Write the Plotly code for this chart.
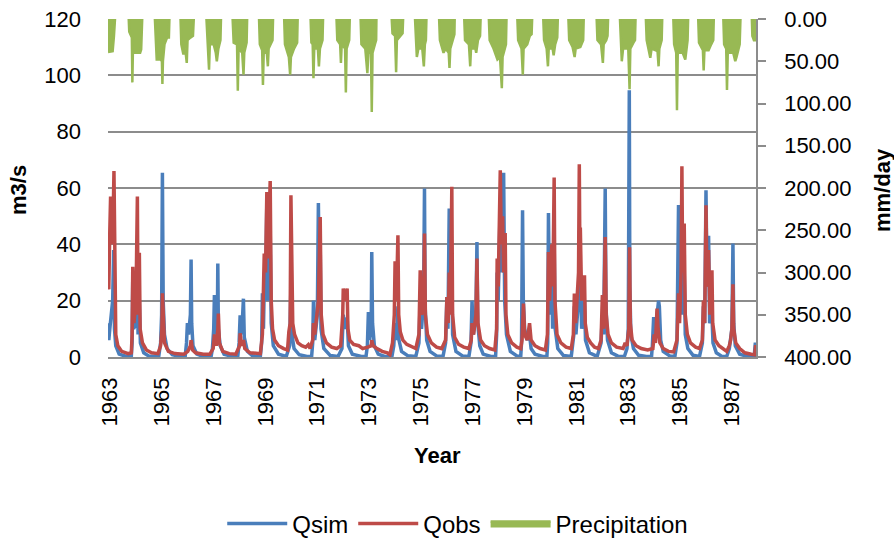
import plotly.graph_objects as go

# ---- Data (decimal year, value) ----
qsim_pts = [
    (1962.92,12),(1962.95,6),(1962.99,10),(1963.02,13),(1963.1,20),(1963.14,38),(1963.17,10),(1963.22,4),(1963.35,1),(1963.6,0.3),
    (1963.82,0.3),(1963.85,5),(1963.876,28.6),(1963.91,10),(1964.0,12),(1964.05,30),(1964.08,8),(1964.13,20),(1964.17,5),(1964.3,1.5),(1964.5,0.3),
    (1964.88,0.3),(1964.95,5),(1964.99,15),(1965.02,65.4),(1965.05,20),(1965.1,8),(1965.2,3),(1965.4,0.8),(1965.7,0.2),
    (1965.9,0.3),(1965.95,5),(1965.985,12),(1966.03,8),(1966.1,15),(1966.127,34.6),(1966.15,12),(1966.2,4),(1966.35,1),(1966.6,0.2),
    (1966.9,0.2),(1966.95,3),(1967.0,10),(1967.027,22),(1967.08,8),(1967.14,12),(1967.158,33.2),(1967.18,10),(1967.25,4),(1967.4,1),(1967.7,0.2),
    (1967.93,0.3),(1967.98,5),(1968.02,14.8),(1968.08,8),(1968.147,20.7),(1968.18,7),(1968.3,2),(1968.5,0.4),(1968.8,0.2),
    (1968.85,5),(1968.88,22.6),(1968.92,10),(1968.96,30),(1969.0,20),(1969.05,55),(1969.1,20),(1969.18,45),(1969.22,12),(1969.3,4),(1969.5,1),(1969.8,0.2),
    (1969.93,4),(1969.98,25),(1970.02,8),(1970.1,3),(1970.3,0.8),(1970.6,0.2),
    (1970.78,0.3),(1970.82,5),(1970.85,20),(1970.9,6),(1971.0,15),(1971.04,54.7),(1971.08,20),(1971.11,40),(1971.14,10),(1971.25,3),(1971.5,0.5),(1971.8,0.2),
    (1971.95,3),(1972.0,15),(1972.05,10),(1972.15,14),(1972.2,4),(1972.35,1),(1972.7,0.2),
    (1972.88,0.3),(1972.93,4),(1972.97,16),(1973.02,6),(1973.08,12),(1973.10,37.3),(1973.13,12),(1973.2,4),(1973.35,1),(1973.6,0.2),
    (1973.88,0.3),(1973.95,4),(1974.0,12),(1974.05,6),(1974.11,18),(1974.15,6),(1974.25,2),(1974.5,0.4),(1974.8,0.2),
    (1974.92,5),(1974.97,20),(1975.02,10),(1975.1,20),(1975.135,59.8),(1975.16,18),(1975.22,6),(1975.35,2),(1975.6,0.4),(1975.85,0.2),
    (1975.95,5),(1976.0,21.3),(1976.04,10),(1976.09,52.7),(1976.12,20),(1976.19,30),(1976.22,8),(1976.35,2),(1976.6,0.4),(1976.85,0.2),
    (1976.93,5),(1976.97,20),(1977.02,8),(1977.12,15),(1977.16,40.8),(1977.19,12),(1977.27,4),(1977.4,1),(1977.7,0.2),
    (1977.88,0.3),(1977.92,8),(1977.94,30),(1977.98,20),(1978.06,55),(1978.1,30),(1978.19,65.4),(1978.23,20),(1978.3,8),(1978.45,2),(1978.7,0.4),(1978.85,0.2),
    (1978.88,5),(1978.92,52.1),(1978.95,20),(1979.0,10),(1979.1,6),(1979.19,8),(1979.25,3),(1979.4,1),(1979.7,0.2),
    (1979.86,0.3),(1979.89,5),(1979.92,51.1),(1979.96,15),(1980.05,30),(1980.08,10),(1980.14,40),(1980.18,10),(1980.28,3),(1980.5,0.5),(1980.8,0.2),
    (1980.9,8),(1980.92,18),(1980.98,8),(1981.08,20),(1981.11,45),(1981.15,30),(1981.2,10),(1981.31,20),(1981.35,6),(1981.5,1.5),(1981.8,0.2),
    (1981.95,5),(1982.0,15),(1982.05,8),(1982.11,59.8),(1982.14,18),(1982.2,6),(1982.35,1.5),(1982.6,0.3),(1982.85,0.2),
    (1982.95,3),(1983.0,10),(1983.04,94.7),(1983.06,25),(1983.1,8),(1983.2,3),(1983.4,0.6),(1983.7,0.2),
    (1983.9,0.3),(1983.93,4),(1983.98,14.2),(1984.03,8),(1984.12,15),(1984.17,20),(1984.2,18),(1984.25,6),(1984.35,2),(1984.6,0.4),(1984.8,0.2),
    (1984.88,5),(1984.94,54),(1984.97,20),(1985.04,25),(1985.07,45),(1985.1,15),(1985.16,30),(1985.2,8),(1985.3,3),(1985.5,0.6),(1985.75,0.2),
    (1985.86,5),(1985.9,18),(1985.95,12),(1986.0,59.2),(1986.04,25),(1986.1,43),(1986.14,12),(1986.23,15),(1986.27,5),(1986.4,1.5),(1986.6,0.3),(1986.8,0.2),
    (1986.9,3),(1986.93,6),(1987.0,10),(1987.04,40.3),(1987.07,12),(1987.13,4),(1987.3,1),(1987.6,0.2),(1987.86,0.2),(1987.9,4.5),(1987.93,4.5),
]

qobs_pts = [
    (1962.92,32),(1962.95,24),(1962.99,45),(1963.02,57),(1963.06,40),(1963.12,50),(1963.15,66),(1963.18,20),(1963.22,8),(1963.3,4),(1963.45,2),(1963.7,1.2),
    (1963.82,1.5),(1963.85,8),(1963.876,32),(1963.92,12),(1964.0,20),(1964.054,57),(1964.08,15),(1964.13,37),(1964.16,10),(1964.25,5),(1964.4,2.5),(1964.6,1.5),(1964.85,1.2),
    (1964.95,4),(1965.0,10),(1965.02,22.6),(1965.05,12),(1965.1,5),(1965.25,2),(1965.5,1.2),(1965.85,1.0),
    (1966.0,2),(1966.1,4),(1966.127,6),(1966.18,2.5),(1966.3,1.5),(1966.6,1.0),(1966.85,1.0),
    (1966.98,3),(1967.03,8),(1967.1,4),(1967.16,10),(1967.18,15.4),(1967.22,5),(1967.35,2),(1967.6,1.2),(1967.85,1.0),
    (1968.0,4),(1968.02,8.4),(1968.08,4),(1968.15,6),(1968.2,3),(1968.4,1.5),(1968.8,1.2),
    (1968.88,8),(1968.95,36.7),(1969.0,30),(1969.05,58.6),(1969.1,35),(1969.18,62.5),(1969.22,20),(1969.27,10),(1969.35,6),(1969.5,4),(1969.7,3),(1969.85,2.5),
    (1969.9,9),(1969.95,12),(1969.98,57.4),(1970.01,20),(1970.05,12),(1970.12,8),(1970.25,5),(1970.4,4),(1970.55,3.5),(1970.65,4.4),(1970.72,3),
    (1970.82,6),(1970.85,12),(1970.9,8),(1971.04,20),(1971.11,49.7),(1971.15,15),(1971.22,8),(1971.35,5),(1971.55,3.5),(1971.75,3),
    (1971.9,4),(1971.98,15),(1972.0,24.3),(1972.08,20),(1972.15,24.3),(1972.18,10),(1972.25,6),(1972.4,4.5),(1972.6,4),(1972.75,3),
    (1972.95,3.5),(1973.08,4),(1973.10,6),(1973.15,4),(1973.3,3),(1973.5,2),(1973.7,1.5),(1973.8,0.8),
    (1973.9,5),(1973.97,15),(1974.0,34),(1974.05,20),(1974.11,43.2),(1974.14,15),(1974.2,9),(1974.3,6),(1974.45,4.5),(1974.65,3.5),(1974.8,3),
    (1974.92,8),(1974.97,30.8),(1975.02,15),(1975.1,18),(1975.135,43.8),(1975.17,15),(1975.25,8),(1975.4,5),(1975.6,3.5),(1975.8,3),
    (1975.95,6),(1976.0,21.3),(1976.05,12),(1976.09,30),(1976.13,15),(1976.19,60.4),(1976.22,15),(1976.3,7),(1976.45,4.5),(1976.65,3.5),(1976.85,3),
    (1976.94,6),(1976.97,12),(1977.03,8),(1977.12,15),(1977.16,35),(1977.2,12),(1977.3,6),(1977.45,4),(1977.65,3),(1977.85,2.5),
    (1977.92,10),(1977.94,35),(1977.98,25),(1978.06,66.3),(1978.1,40),(1978.15,50),(1978.19,30),(1978.25,44),(1978.28,15),(1978.35,8),(1978.5,5),(1978.7,3.5),(1978.85,3),
    (1978.9,6),(1978.955,19),(1979.0,8),(1979.1,6),(1979.19,12),(1979.25,6),(1979.4,4),(1979.6,3),(1979.8,2.5),
    (1979.88,8),(1979.92,37.3),(1979.96,20),(1980.05,40),(1980.09,25),(1980.14,63.7),(1980.17,20),(1980.25,8),(1980.4,5),(1980.6,3.5),(1980.8,3),
    (1980.88,8),(1980.92,22.5),(1980.97,12),(1981.08,30),(1981.11,68.4),(1981.13,40),(1981.15,46),(1981.2,20),(1981.31,29),(1981.34,12),(1981.42,7),(1981.55,5),(1981.7,3.5),(1981.85,3),
    (1981.95,6),(1982.0,22),(1982.05,10),(1982.11,42.6),(1982.15,15),(1982.22,8),(1982.35,5),(1982.55,3.5),(1982.8,3),
    (1982.88,5),(1982.95,4),(1983.02,10),(1983.05,39),(1983.08,12),(1983.15,6),(1983.3,4),(1983.5,3),(1983.75,2.5),
    (1983.95,3),(1984.0,8),(1984.05,5),(1984.11,17.2),(1984.15,10),(1984.22,5),(1984.35,3),(1984.55,2),(1984.75,1.8),
    (1984.88,6),(1984.94,22.6),(1984.98,12),(1985.04,30),(1985.07,67.7),(1985.1,30),(1985.16,47.4),(1985.2,15),(1985.28,8),(1985.4,5),(1985.6,3.5),(1985.75,3),
    (1985.86,6),(1985.9,20),(1985.95,12),(1986.0,53.9),(1986.04,25),(1986.1,38),(1986.15,15),(1986.23,30.8),(1986.26,12),(1986.35,6),(1986.5,4),(1986.65,3),(1986.8,2),
    (1986.9,4),(1986.95,6),(1987.0,10),(1987.04,25.8),(1987.07,10),(1987.15,5),(1987.3,3),(1987.5,1.5),(1987.75,1),(1987.88,0.8),(1987.91,3.6),(1987.93,3.6),
]

# precipitation (mm/day), one list of points per rainy season
precip_seasons = [
    [(1962.92,39),(1963.10,38),(1963.15,20),(1963.19,0)],
    [(1963.72,0),(1963.74,15),(1963.84,22),(1963.86,75),(1963.88,40),(1964.1,40),(1964.16,40),(1964.2,36),(1964.24,0)],
    [(1964.73,0),(1964.76,30),(1964.8,48),(1964.95,48),(1965.0,50),(1965.02,77),(1965.04,50),(1965.1,30),(1965.2,22),(1965.27,22),(1965.29,0)],
    [(1965.72,0),(1965.75,30),(1965.83,42),(1965.9,35),(1965.96,52),(1965.99,25),(1966.1,22),(1966.2,20),(1966.23,0)],
    [(1966.72,0),(1966.76,25),(1966.82,60),(1966.85,30),(1967.0,30),(1967.08,40),(1967.12,50),(1967.18,35),(1967.26,25),(1967.28,0)],
    [(1967.73,0),(1967.77,28),(1967.9,30),(1967.93,85),(1967.96,35),(1968.1,40),(1968.15,66),(1968.18,40),(1968.27,28),(1968.29,0)],
    [(1968.75,0),(1968.78,30),(1968.87,37),(1968.90,78),(1968.93,40),(1969.05,40),(1969.09,56),(1969.12,35),(1969.27,25),(1969.29,0)],
    [(1969.72,0),(1969.75,30),(1969.9,45),(1969.95,66),(1969.98,45),(1970.1,35),(1970.22,28),(1970.24,0)],
    [(1970.74,0),(1970.77,28),(1970.82,30),(1970.85,70),(1970.88,35),(1971.02,35),(1971.06,56),(1971.1,35),(1971.2,25),(1971.22,0)],
    [(1971.74,0),(1971.77,25),(1971.88,30),(1971.91,52),(1971.94,30),(1972.07,35),(1972.10,87),(1972.13,35),(1972.23,25),(1972.25,0)],
    [(1972.67,0),(1972.7,30),(1972.85,35),(1972.93,64),(1972.97,40),(1973.07,40),(1973.10,110),(1973.13,40),(1973.22,30),(1973.27,25),(1973.28,0)],
    [(1973.87,0),(1973.9,17),(1974.0,20),(1974.04,63),(1974.07,25),(1974.2,20),(1974.29,17),(1974.31,0)],
    [(1974.77,0),(1974.8,30),(1974.84,45),(1974.9,35),(1975.05,35),(1975.11,56),(1975.15,30),(1975.19,25),(1975.21,0)],
    [(1975.70,0),(1975.73,25),(1975.87,40),(1975.95,35),(1976.07,40),(1976.10,58),(1976.13,35),(1976.25,22),(1976.29,18),(1976.30,0)],
    [(1976.67,0),(1976.7,25),(1976.85,30),(1976.90,56),(1976.93,35),(1977.1,35),(1977.13,40),(1977.2,25),(1977.28,20),(1977.30,0)],
    [(1977.62,0),(1977.65,25),(1977.8,35),(1977.95,48),(1978.05,45),(1978.12,82),(1978.15,45),(1978.22,35),(1978.28,30),(1978.30,0)],
    [(1978.72,0),(1978.75,25),(1978.88,35),(1978.93,66),(1978.96,35),(1979.1,30),(1979.2,20),(1979.27,18),(1979.29,0)],
    [(1979.72,0),(1979.75,25),(1979.85,35),(1979.90,56),(1979.93,35),(1980.08,35),(1980.12,43),(1980.18,30),(1980.26,22),(1980.28,0)],
    [(1980.69,0),(1980.72,25),(1980.85,33),(1980.93,45),(1980.97,35),(1981.15,33),(1981.26,25),(1981.28,0)],
    [(1981.78,0),(1981.81,25),(1981.95,30),(1982.02,52),(1982.05,30),(1982.15,25),(1982.20,20),(1982.22,0)],
    [(1982.68,0),(1982.71,35),(1982.75,50),(1982.8,35),(1983.0,35),(1983.05,83),(1983.08,35),(1983.2,28),(1983.26,25),(1983.28,0)],
    [(1983.68,0),(1983.71,25),(1983.85,46),(1983.9,35),(1984.13,38),(1984.17,56),(1984.2,35),(1984.29,25),(1984.31,0)],
    [(1984.74,0),(1984.77,30),(1984.85,40),(1984.88,108),(1984.91,40),(1985.1,40),(1985.2,48),(1985.25,35),(1985.29,25),(1985.31,0)],
    [(1985.70,0),(1985.73,28),(1985.88,37),(1985.91,61),(1985.94,37),(1986.1,37),(1986.2,30),(1986.28,25),(1986.30,0)],
    [(1986.67,0),(1986.7,30),(1986.78,35),(1986.81,84),(1986.84,40),(1987.05,40),(1987.13,50),(1987.18,45),(1987.3,30),(1987.33,0)],
    [(1987.77,0),(1987.79,20),(1987.85,25),(1987.93,25)],
]

year_ticks = list(range(1963, 1988, 2))
flow_ticks = [0, 20, 40, 60, 80, 100, 120]
rain_ticks = [0, 50, 100, 150, 200, 250, 300, 350, 400]

BLUE = "#4A7EBB"
RED = "#BE4B48"
GREEN = "#98B954"
GRID = "#8C8C8C"
FONT = "Liberation Sans"

px, py = [], []
for season in precip_seasons:
    for t, v in season:
        px.append(t)
        py.append(v)
    px.append(None)
    py.append(None)

# plot area in page pixels: x 108..756, y 19..357
L, R, T, B = 108, 756, 19, 357
W, H = 894, 539
pw, ph = R - L, B - T

fig = go.Figure()
fig.add_trace(go.Scatter(x=[p[0] for p in qsim_pts], y=[p[1] for p in qsim_pts],
                         mode="lines", name="Qsim", line=dict(color=BLUE, width=3.5)))
fig.add_trace(go.Scatter(x=[p[0] for p in qobs_pts], y=[p[1] for p in qobs_pts],
                         mode="lines", name="Qobs", line=dict(color=RED, width=3.5)))
fig.add_trace(go.Scatter(x=px, y=py, yaxis="y2", mode="lines", name="Precipitation",
                         line=dict(color=GREEN, width=2.5), fill="tozeroy",
                         fillcolor=GREEN, connectgaps=False))

fig.update_layout(
    width=W, height=H,
    margin=dict(l=L, r=W - R, t=T, b=H - B, autoexpand=False),
    paper_bgcolor="white", plot_bgcolor="white",
    font=dict(family=FONT, size=22, color="black"),
    showlegend=True,
    legend=dict(orientation="h", xref="container", yref="container",
                x=0.512, xanchor="center", y=1 - 524 / H, yanchor="middle",
                font=dict(size=24), itemwidth=60, tracegroupgap=0),
    xaxis=dict(range=[1962.92, 1987.93], tickvals=year_ticks,
               ticktext=[str(y) for y in year_ticks], tickangle=-90,
               showgrid=False, zeroline=False, showline=True, linecolor=GRID,
               linewidth=1.5, ticks="", ticklabelstandoff=10),
    yaxis=dict(range=[0, 120], tickvals=flow_ticks, showgrid=True, gridcolor=GRID,
               gridwidth=1.5, zeroline=False, showline=False, ticks="",
               ticklabelstandoff=26),
    yaxis2=dict(range=[400, 0], overlaying="y", side="right", tickvals=rain_ticks,
                tickformat=".2f", showgrid=False, zeroline=False, showline=True,
                linecolor=GRID, linewidth=1.5, ticks="outside", ticklen=8,
                tickcolor=GRID, tickwidth=1.5, ticklabelstandoff=14),
    annotations=[
        dict(text="<b>m3/s</b>", xref="paper", yref="paper",
             x=(18 - L) / pw, y=(B - 190) / ph, textangle=-90, showarrow=False,
             xanchor="center", yanchor="middle", font=dict(size=22)),
        dict(text="<b>mm/day</b>", xref="paper", yref="paper",
             x=(882 - L) / pw, y=(B - 190) / ph, textangle=-90, showarrow=False,
             xanchor="center", yanchor="middle", font=dict(size=22)),
        dict(text="<b>Year</b>", xref="paper", yref="paper",
             x=(437 - L) / pw, y=-(455 - B) / ph, showarrow=False,
             xanchor="center", yanchor="middle", font=dict(size=22)),
    ],
)

fig.write_html("out.html", config={"displayModeBar": False},
               post_script="document.body.style.margin='0';document.body.style.overflow='hidden';")
